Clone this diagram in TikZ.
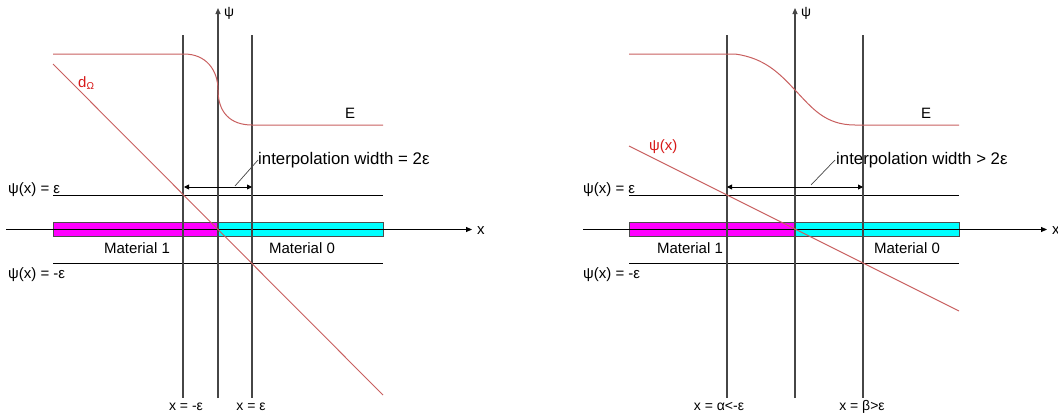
\documentclass[tikz,border=0pt]{standalone}
\usepackage{fontspec}
\setmainfont{Liberation Sans}
\usetikzlibrary{arrows.meta}
\definecolor{curvecol}{RGB}{200,95,95}
\definecolor{lblred}{RGB}{215,25,25}
\definecolor{vcol}{RGB}{70,70,70}
\definecolor{magbar}{RGB}{255,0,255}
\definecolor{cyanbar}{RGB}{0,255,255}
\tikzset{
  vline/.style={draw=vcol, line width=1.1pt},
  hline/.style={draw=black, line width=0.8pt},
  axisline/.style={draw=black, line width=0.8pt, -{Triangle[length=6pt,width=5pt]}},
  redcurve/.style={draw=curvecol, line width=1pt},
  dimarrow/.style={draw=black, line width=0.9pt, {Triangle[length=5pt,width=5pt]}-{Triangle[length=5pt,width=5pt]}},
  leader/.style={draw=vcol, line width=0.7pt},
  txt/.style={inner sep=0pt, font=\fontsize{15}{18}\selectfont},
  inttxt/.style={inner sep=0pt, font=\fontsize{16.8}{19}\selectfont},
  smalltxt/.style={inner sep=0pt, font=\fontsize{14}{16}\selectfont},
}
\begin{document}
\begin{tikzpicture}[x=1pt,y=-1pt]
\useasboundingbox (0,0) rectangle (1058,415);

% ================= LEFT DIAGRAM =================
% bar
\draw[fill=magbar, draw=black!70, line width=0.8pt] (53,222) rectangle (218,236);
\draw[fill=cyanbar, draw=black!70, line width=0.8pt] (218,222) rectangle (383,236);
% epsilon lines
\coordinate (Lpe1) at (53,195); \coordinate (Lpe2) at (383,195);
\coordinate (Lme1) at (53,263); \coordinate (Lme2) at (383,263);
\draw[hline] (Lpe1) -- (Lpe2);
\draw[hline] (Lme1) -- (Lme2);
% x axis
\coordinate (Lx0) at (6,229.5); \coordinate (Lx1) at (472,229.5);
\draw[axisline] (Lx0) -- (Lx1);
\node[txt, anchor=west] (Lxl) at (477,231) {x};
% vertical lines
\coordinate (Lv1t) at (183,35); \coordinate (Lv1b) at (183,398);
\coordinate (Lv2t) at (252,35); \coordinate (Lv2b) at (252,398);
\draw[vline] (Lv1t) -- (Lv1b);
\draw[vline] (Lv2t) -- (Lv2b);
% psi axis
\coordinate (Lpsi0) at (218,398); \coordinate (Lpsi1) at (218,8);
\draw[vline, -{Triangle[length=6pt,width=5pt]}] (Lpsi0) -- (Lpsi1);
\node[smalltxt, anchor=west] (Lpsil) at (224,13) {ψ};
% E curve
\draw[redcurve] (53,54) -- (184,54) .. controls (206,54) and (218,70) .. (218,90)
  .. controls (218,112) and (230,125) .. (252,125) -- (383,125);
\node[txt, anchor=base west] (LE) at (345,118) {E};
% distance line
\coordinate (Ld0) at (53,64); \coordinate (Ld1) at (383,395);
\draw[redcurve, line width=0.9pt] (Ld0) -- (Ld1);
\node[txt, anchor=base west, text=lblred] (Ldl) at (78,87) {d\textsubscript{\fontsize{10}{10}\selectfont Ω}};
% dimension arrow
\coordinate (La0) at (184,187); \coordinate (La1) at (252,187);
\draw[dimarrow] (La0) -- (La1);
\node[inttxt, anchor=base west] (Lint) at (258,164) {interpolation width = 2ε};
\coordinate (Llead0) at (235,186); \coordinate (Llead1) at (258,160);
\draw[leader] (Llead0) -- (Llead1);
% labels
\node[txt, anchor=base west] (Lpel) at (8,193) {ψ(x) = ε};
\node[txt, anchor=base west] (Lmel) at (8,278) {ψ(x) = -ε};
\node[txt, anchor=base] (Lm1) at (137,253) {Material 1};
\node[txt, anchor=base] (Lm0) at (302,253) {Material 0};
\node[smalltxt, anchor=base] (Lb1) at (186,410) {x = -ε};
\node[smalltxt, anchor=base] (Lb2) at (251,410) {x = ε};

% ================= RIGHT DIAGRAM =================
\draw[fill=magbar, draw=black!70, line width=0.8pt] (629,222) rectangle (795,236);
\draw[fill=cyanbar, draw=black!70, line width=0.8pt] (795,222) rectangle (959,236);
\coordinate (Rpe1) at (629,195); \coordinate (Rpe2) at (959,195);
\coordinate (Rme1) at (629,263); \coordinate (Rme2) at (959,263);
\draw[hline] (Rpe1) -- (Rpe2);
\draw[hline] (Rme1) -- (Rme2);
\coordinate (Rx0) at (583,229.5); \coordinate (Rx1) at (1047,229.5);
\draw[axisline] (Rx0) -- (Rx1);
\node[txt, anchor=west] (Rxl) at (1052,231) {x};
\coordinate (Rv1t) at (727,35); \coordinate (Rv1b) at (727,398);
\coordinate (Rv2t) at (863,35); \coordinate (Rv2b) at (863,398);
\draw[vline] (Rv1t) -- (Rv1b);
\draw[vline] (Rv2t) -- (Rv2b);
\coordinate (Rpsi0) at (795,398); \coordinate (Rpsi1) at (795,8);
\draw[vline, -{Triangle[length=6pt,width=5pt]}] (Rpsi0) -- (Rpsi1);
\node[smalltxt, anchor=west] (Rpsil) at (801,13) {ψ};
\draw[redcurve] (629,54) -- (735,54) .. controls (765,58) and (780,74) .. (795,90)
  .. controls (812,108) and (825,125) .. (855,125) -- (959,125);
\node[txt, anchor=base west] (RE) at (921,118) {E};
\coordinate (Rd0) at (629,146); \coordinate (Rd1) at (959,311);
\draw[redcurve, line width=0.9pt] (Rd0) -- (Rd1);
\node[txt, anchor=base west, text=lblred] (Rdl) at (649,150) {ψ(x)};
\coordinate (Ra0) at (727,187); \coordinate (Ra1) at (863,187);
\draw[dimarrow] (Ra0) -- (Ra1);
\node[inttxt, anchor=base west] (Rint) at (836,164) {interpolation width > 2ε};
\coordinate (Rlead0) at (811,185); \coordinate (Rlead1) at (835,160);
\draw[leader] (Rlead0) -- (Rlead1);
\node[txt, anchor=base west] (Rpel) at (583,193) {ψ(x) = ε};
\node[txt, anchor=base west] (Rmel) at (583,278) {ψ(x) = -ε};
\node[txt, anchor=base] (Rm1) at (690,253) {Material 1};
\node[txt, anchor=base] (Rm0) at (907,253) {Material 0};
\node[smalltxt, anchor=base] (Rb1) at (719,410) {x = α<-ε};
\node[smalltxt, anchor=base] (Rb2) at (862,410) {x = β>ε};
\end{tikzpicture}
\end{document}
